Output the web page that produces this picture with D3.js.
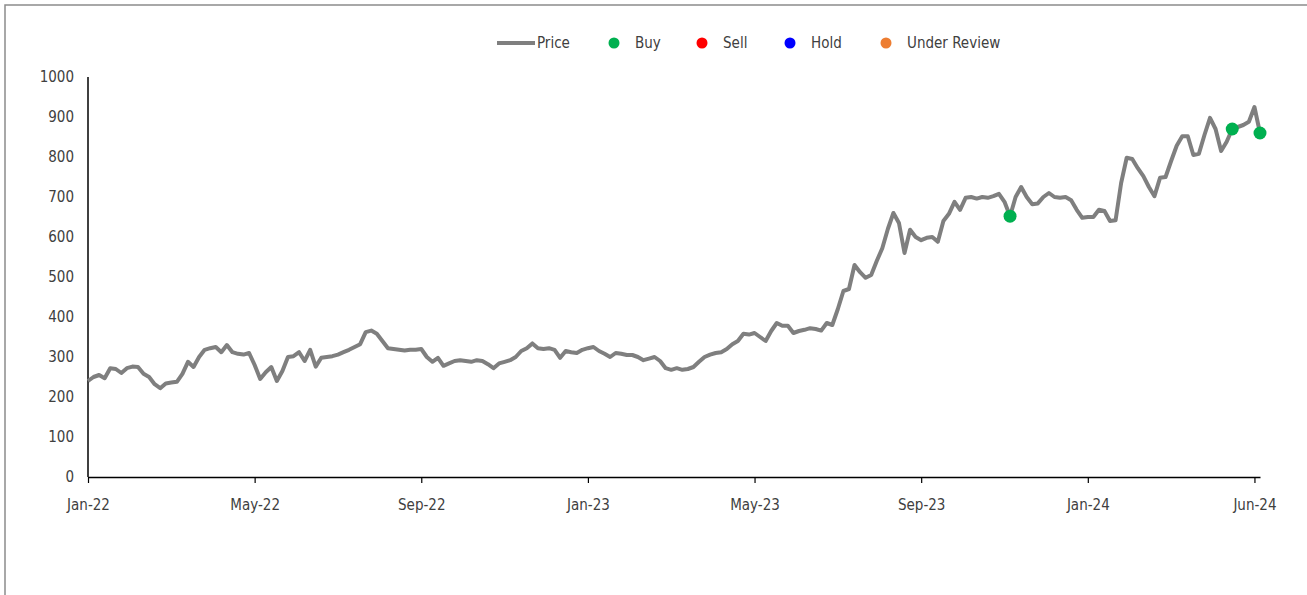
<!DOCTYPE html>
<html>
<head>
<meta charset="utf-8">
<script src="https://cdn.jsdelivr.net/npm/d3@7/dist/d3.min.js"></script>
<style>
  body { margin: 0; background: #fff; }
  svg text { font-family: "Liberation Sans Narrow", "DejaVu Sans Condensed", "Open Sans", sans-serif; fill: #404040; }
</style>
</head>
<body>
<div id="chart"></div>
<script>
// price, one value per step (30 steps between axis labels)
var price = [
  240, 250, 255, 247, 272, 270, 260, 272, 276, 275,
  258, 250, 232, 222, 234, 236, 238, 258, 288, 275,
  300, 318, 322, 325, 312, 330, 312, 308, 306, 310,
  280, 245, 262, 275, 240, 265, 300, 302, 312, 290,
  318, 276, 298, 300, 302, 306, 312, 318, 325, 332,
  362, 366, 358, 340, 322, 320, 318, 316, 318, 318,
  320, 300, 288, 298, 278, 284, 290, 292, 290, 288,
  292, 290, 282, 272, 284, 288, 292, 300, 315, 322,
  334, 322, 320, 322, 318, 298, 315, 312, 310, 318,
  322, 325, 315, 308, 300, 310, 308, 305, 305, 300,
  292, 296, 300, 290, 272, 268, 272, 268, 270, 275,
  288, 300, 306, 310, 312, 320, 332, 340, 358, 356,
  360, 350, 340, 365, 385, 378, 378, 360, 365, 368,
  372, 370, 366, 385, 380, 420, 465, 470, 530, 512,
  498, 505, 540, 572, 620, 660, 635, 560, 618, 600,
  592, 598, 600, 588, 640, 658, 688, 668, 698, 700,
  696, 700, 698, 702, 708, 688, 652, 700, 725, 700,
  682, 684, 700, 710, 700, 698, 700, 692, 668, 648,
  650, 650, 668, 665, 640, 642, 735, 798, 795, 772,
  752, 725, 702, 748, 750, 790, 828, 852, 852, 805,
  808, 855, 898, 870, 815, 838, 870, 875, 880, 888,
  925, 860
];
var tickLabels = ['Jan-22', 'May-22', 'Sep-22', 'Jan-23', 'May-23', 'Sep-23', 'Jan-24', 'Jun-24'];
var tickStep = 30;
var buyIdx = [166, 206, 211];
var sellIdx = [];
var holdIdx = [];
var reviewIdx = [];
var yTicks = [0, 100, 200, 300, 400, 500, 600, 700, 800, 900, 1000];

var W = 1307, H = 595;
var svg = d3.select('#chart').append('svg').attr('width', W).attr('height', H);

// frame: only top and left edges show
svg.append('path')
  .attr('d', 'M5,' + H + 'V5H' + W)
  .attr('fill', 'none').attr('stroke', '#8c8c8c').attr('stroke-width', 1.5);

var x = d3.scaleLinear().domain([0, price.length - 1]).range([88, 1260]);
var y = d3.scaleLinear().domain([0, 1000]).range([477, 77]);

// y axis
var yAxis = svg.append('g')
  .attr('transform', 'translate(88,0)')
  .call(d3.axisLeft(y).tickValues(yTicks).tickFormat(d3.format('d')).tickSize(0).tickPadding(14));
yAxis.select('.domain').attr('stroke', '#000').attr('stroke-width', 1.5).attr('d', 'M0,' + y(1000) + 'V' + y(0));
yAxis.selectAll('text').style('font-size', '15px');

// x axis
var xAxis = svg.append('g')
  .attr('transform', 'translate(0,' + y(0) + ')')
  .call(d3.axisBottom(x)
    .tickValues(tickLabels.map(function (d, i) { return i * tickStep; }))
    .tickFormat(function (d, i) { return tickLabels[i]; })
    .tickSize(6).tickSizeOuter(0).tickPadding(16));
xAxis.select('.domain').attr('stroke', '#000').attr('stroke-width', 1.5);
xAxis.selectAll('.tick line').attr('stroke', '#000').attr('stroke-width', 1.2);
xAxis.selectAll('text').style('font-size', '15px');

// price line
var line = d3.line()
  .x(function (d, i) { return x(i); })
  .y(function (d) { return y(d); });
svg.append('path')
  .datum(price)
  .attr('fill', 'none')
  .attr('stroke', '#7f7f7f')
  .attr('stroke-width', 4)
  .attr('stroke-linejoin', 'round')
  .attr('d', line);

function dots(idx, color) {
  svg.selectAll(null)
    .data(idx)
    .enter().append('circle')
    .attr('cx', function (d) { return x(d); })
    .attr('cy', function (d) { return y(price[d]); })
    .attr('r', 6.5)
    .attr('fill', color);
}
dots(buyIdx, '#00b050');
dots(sellIdx, '#ff0000');
dots(holdIdx, '#0000ff');
dots(reviewIdx, '#ed7d31');

// legend
var legend = [
  { name: 'Price', type: 'line', color: '#7f7f7f', x: 497 },
  { name: 'Buy', type: 'dot', color: '#00b050', x: 614 },
  { name: 'Sell', type: 'dot', color: '#ff0000', x: 702 },
  { name: 'Hold', type: 'dot', color: '#0000ff', x: 790 },
  { name: 'Under Review', type: 'dot', color: '#ed7d31', x: 886 }
];
var lg = svg.append('g').attr('transform', 'translate(0,43)');
legend.forEach(function (d) {
  if (d.type === 'line') {
    lg.append('line').attr('x1', d.x).attr('x2', d.x + 38).attr('y1', 0).attr('y2', 0)
      .attr('stroke', d.color).attr('stroke-width', 4);
    lg.append('text').attr('x', d.x + 40).attr('y', 0).attr('dy', '0.35em')
      .style('font-size', '15px').text(d.name);
  } else {
    lg.append('circle').attr('cx', d.x).attr('cy', 0).attr('r', 5.5).attr('fill', d.color);
    lg.append('text').attr('x', d.x + 21).attr('y', 0).attr('dy', '0.35em')
      .style('font-size', '15px').text(d.name);
  }
});
</script>
</body>
</html>
